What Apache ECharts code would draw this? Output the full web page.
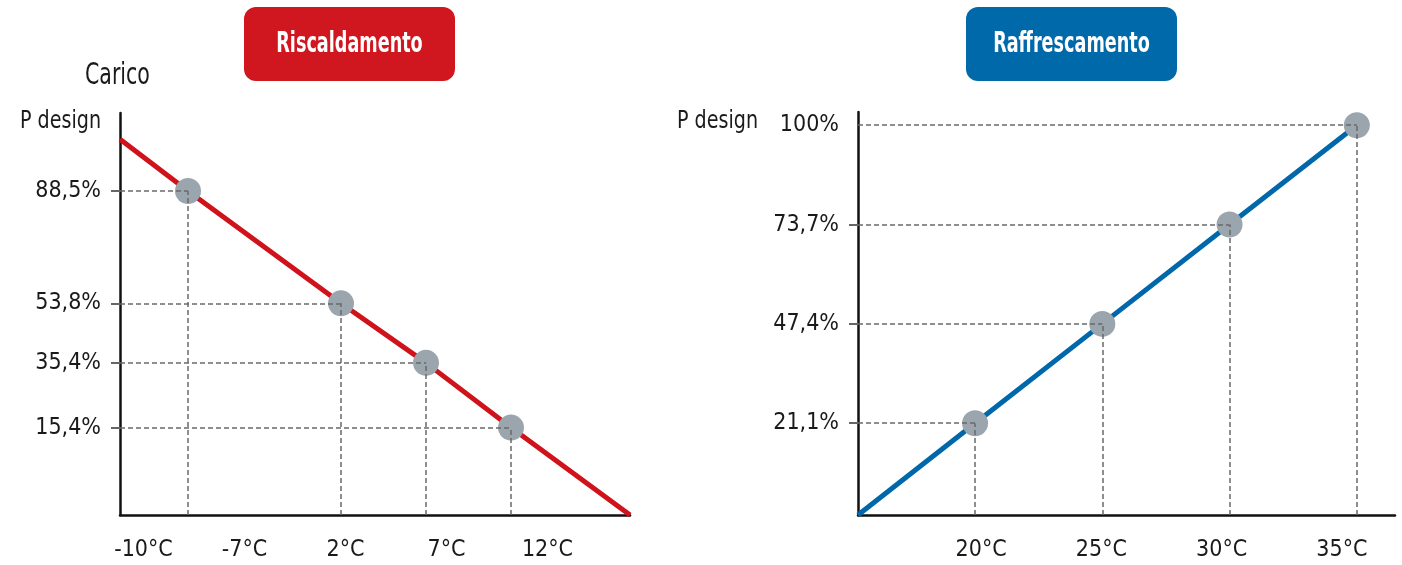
<!DOCTYPE html>
<html>
<head>
<meta charset="utf-8">
<script src="https://cdn.jsdelivr.net/npm/echarts@6/dist/echarts.min.js"></script>
<style>
html,body{margin:0;padding:0;background:#fff;}
#c{width:1402px;height:565px;}
</style>
</head>
<body>
<div id="c"></div>
<script>
// ---- data ----
const heatTemps = [-7, 2, 7, 12];
const heatLoads = [88.5, 53.8, 35.4, 15.4];
const heatXLabels = ['-10°C', '-7°C', '2°C', '7°C', '12°C'];
const heatYLabels = ['88,5%', '53,8%', '35,4%', '15,4%'];
const heatLineStart = [-11, 104.5];
const heatLineEnd = [19, -11.6];

const coolTemps = [20, 25, 30, 35];
const coolLoads = [21.1, 47.4, 73.7, 100];
const coolXLabels = ['20°C', '25°C', '30°C', '35°C'];
const coolYLabels = ['21,1%', '47,4%', '73,7%', '100%'];
const coolLineStart = [15.4, -3.2];

// ---- chart ----
const FONT = "'Liberation Sans Narrow', 'DejaVu Sans Condensed', 'Roboto', sans-serif";
const TXT = '#1a1a1a';
const RED = '#d0121b';
const BLUE = '#0068aa';
const DOT = '#9aa5ad';

const heat = { xMin: -11, xMax: 19, yMin: -11.6, yMax: 112.6 };
const cool = { xMin: 15.4, xMax: 36.5, yMin: -3.2, yMax: 103.5 };

const heatPts = heatTemps.map((t, i) => [t, heatLoads[i]]);
const coolPts = coolTemps.map((t, i) => [t, coolLoads[i]]);

function guides(pts, r) {
  const d = [];
  pts.forEach(p => {
    d.push([{ coord: [r.xMin, p[1]] }, { coord: [p[0], p[1]] }]);
    d.push([{ coord: [p[0], r.yMin] }, { coord: [p[0], p[1]] }]);
  });
  return d;
}
function labelFor(values, labels) {
  return v => {
    for (let i = 0; i < values.length; i++) if (Math.abs(values[i] - v) < 1e-6) return labels[i];
    return '';
  };
}

const LABEL_SIZE = 23;
const valueX = (grid, r) => ({
  type: 'value', gridIndex: grid, min: r.xMin, max: r.xMax,
  axisLine: { show: true, onZero: false, lineStyle: { color: '#111', width: 2.5 } },
  axisTick: { show: false }, axisLabel: { show: false }, splitLine: { show: false }
});
const valueY = (grid, r, vals, labels, tickVals) => ({
  type: 'value', gridIndex: grid, min: r.yMin, max: r.yMax,
  axisLine: { show: true, onZero: false, lineStyle: { color: '#111', width: 2.5 } },
  axisTick: { show: true, customValues: tickVals, length: 9, lineStyle: { color: '#666', width: 2 } },
  axisLabel: { show: true, customValues: vals, formatter: labelFor(vals, labels), margin: 19,
    fontFamily: FONT, fontSize: LABEL_SIZE, color: TXT },
  splitLine: { show: false }
});
const labelX = (grid, labels) => ({
  type: 'category', gridIndex: grid, data: labels, boundaryGap: true,
  axisLine: { show: false }, axisTick: { show: false }, splitLine: { show: false },
  axisLabel: { margin: 24, fontFamily: FONT, fontSize: LABEL_SIZE, color: TXT, interval: 0 }
});
const hiddenY = grid => ({ type: 'value', gridIndex: grid, show: false });

const guideStyle = { color: '#6a6a6a', width: 1.5, type: [5, 3] };

function titleBox(left, color, text) {
  return { type: 'group', left: left, top: 7, children: [
    { type: 'rect', shape: { x: 0, y: 0, width: 211, height: 74, r: 12 }, style: { fill: color } },
    { type: 'text', x: 105.5, y: 38, scaleX: 0.7, style: { text: text, fill: '#fff', fontFamily: FONT,
      fontSize: 28, fontWeight: 'bold', textAlign: 'center', textVerticalAlign: 'middle' } }
  ] };
}
function note(x, y, text, size, sx) {
  return { type: 'text', x: x, y: y, scaleX: sx, style: { text: text, fill: TXT, fontFamily: FONT,
    fontSize: size, textAlign: 'left', textVerticalAlign: 'middle' } };
}

const option = {
  animation: false,
  backgroundColor: '#ffffff',
  grid: [
    { left: 120, top: 113, width: 510, height: 402 },
    { left: 858, top: 112, width: 537, height: 403 },
    { left: 93, top: 113, width: 505, height: 402 },
    { left: 921, top: 112, width: 513, height: 403 }
  ],
  xAxis: [valueX(0, heat), valueX(1, cool), labelX(2, heatXLabels), labelX(3, coolXLabels)],
  yAxis: [
    valueY(0, heat, heatLoads, heatYLabels, heatLoads),
    valueY(1, cool, coolLoads, coolYLabels, coolLoads.slice(0, 3)),
    hiddenY(2), hiddenY(3)
  ],
  series: [
    { type: 'scatter', xAxisIndex: 0, yAxisIndex: 0, data: heatPts, symbolSize: 0, silent: true, z: 1,
      markLine: { silent: true, symbol: ['none', 'none'], label: { show: false }, lineStyle: guideStyle,
        emphasis: { disabled: true }, data: guides(heatPts, heat) } },
    { type: 'line', xAxisIndex: 0, yAxisIndex: 0, data: [heatLineStart].concat(heatPts, [heatLineEnd]),
      symbol: 'none', lineStyle: { color: RED, width: 5 }, z: 3, silent: true },
    { type: 'scatter', xAxisIndex: 0, yAxisIndex: 0, data: heatPts, symbolSize: 26,
      itemStyle: { color: DOT, opacity: 1 }, z: 4, silent: true },

    { type: 'scatter', xAxisIndex: 1, yAxisIndex: 1, data: coolPts, symbolSize: 0, silent: true, z: 1,
      markLine: { silent: true, symbol: ['none', 'none'], label: { show: false }, lineStyle: guideStyle,
        emphasis: { disabled: true }, data: guides(coolPts, cool) } },
    { type: 'line', xAxisIndex: 1, yAxisIndex: 1, data: [coolLineStart].concat(coolPts),
      symbol: 'none', lineStyle: { color: BLUE, width: 5 }, z: 3, silent: true },
    { type: 'scatter', xAxisIndex: 1, yAxisIndex: 1, data: coolPts, symbolSize: 26,
      itemStyle: { color: DOT, opacity: 1 }, z: 4, silent: true }
  ],
  graphic: [
    titleBox(244, '#d0161e', 'Riscaldamento'),
    titleBox(966, '#0069aa', 'Raffrescamento'),
    note(85, 76, 'Carico', 30, 0.76),
    note(20, 121, 'P design', 25, 0.85),
    note(677, 121, 'P design', 25, 0.85)
  ]
};

const chart = echarts.init(document.getElementById('c'), null, { renderer: 'canvas' });
chart.setOption(option);
</script>
</body>
</html>
